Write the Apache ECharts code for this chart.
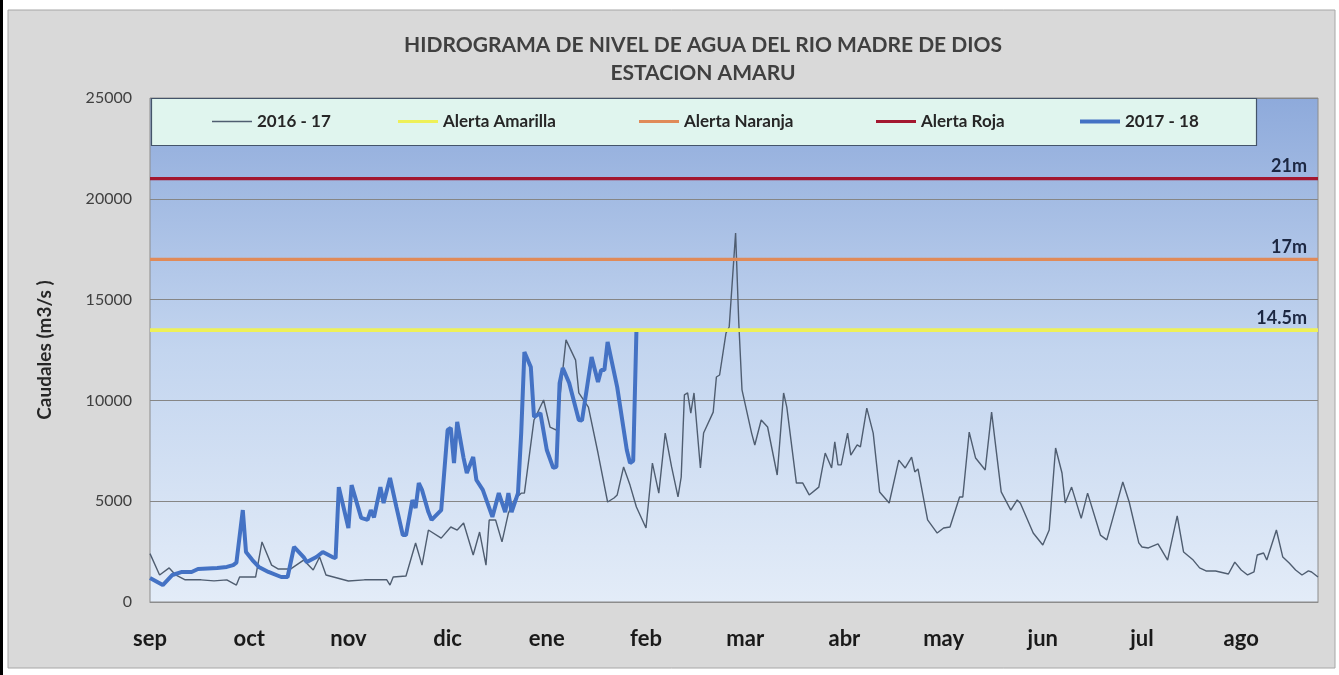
<!DOCTYPE html>
<html lang="es">
<head>
<meta charset="UTF-8">
<title>Hidrograma Amaru</title>
<script src="https://cdn.jsdelivr.net/npm/echarts@6/dist/echarts.min.js"></script>
<style>html,body{margin:0;padding:0;background:#fff}</style>
</head>
<body>
<div id="chart" style="width:1339px;height:675px"></div>
<script>
// etiquetas de meses (una cada 31 dias)
var meses = ['sep','oct','nov','dic','ene','feb','mar','abr','may','jun','jul','ago'];
var diasAnio = 365;

// 2016 - 17 : dia desde el 1 de setiembre / caudal m3/s
var dias1617 = [0,3,6,8,11,16,20,24,27,28,33,35,38,40,44,48,51,53,55,62,67,74,75,76,80,83,85,87,91,94,96,98,101,103,105,106,108,110,112,114,116,117,120,123,125,127,130,133,134,137,140,143,145,146,148,150,152,155,157,159,161,163,165,166,167,168,169,170,172,173,176,177,178,180,181,183,184,185,188,189,191,193,196,198,199,202,204,206,209,211,213,214,215,216,218,219,221,222,224,226,228,231,234,236,238,239,240,243,246,248,250,253,254,256,258,261,263,266,269,271,272,276,279,281,283,285,286,288,291,293,297,299,301,304,306,309,310,312,315,318,321,323,326,328,330,333,337,339,341,343,345,346,348,349,352,354,356,358,360,362,363,365];
var caudal1617 = [2400,1340,1690,1340,1100,1100,1050,1100,840,1240,1240,2980,1830,1640,1640,2080,1590,2230,1340,1040,1100,1100,840,1240,1290,2930,1830,3570,3170,3720,3570,3920,2330,3470,1830,4070,4070,2980,4410,5100,5400,5400,9030,10020,8680,8530,13000,12000,10370,9670,7390,4960,5160,5310,6700,5800,4710,3670,6890,5400,8380,6700,5210,6200,10270,10370,9370,10370,6650,8380,9420,11160,11260,13340,13640,18300,13840,10520,8380,7790,9030,8680,6300,10370,9670,5900,5900,5310,5700,7390,6650,7940,6800,6800,8380,7290,7790,7700,9620,8380,5460,4910,7040,6650,7190,6450,6600,4070,3420,3670,3720,5210,5210,8430,7140,6550,9420,5460,4560,5060,4900,3420,2830,3570,7640,6400,4910,5700,4150,5400,3320,3080,4220,5950,4960,2930,2730,2680,2880,2080,4270,2480,2080,1690,1540,1540,1390,1980,1590,1340,1490,2330,2430,2080,3570,2230,1930,1590,1340,1540,1490,1240];

// 2017 - 18
var dias1718 = [0,4,7,10,13,15,21,24,26,27,29,30,32,34,37,41,43,45,48,49,52,54,57,58,59,62,63,66,68,69,70,72,73,75,77,79,80,82,83,84,85,87,88,90,91,93,94,95,96,98,99,101,102,104,107,109,111,112,113,115,116,117,119,120,122,124,126,127,128,129,131,134,135,138,140,141,142,143,146,149,150,151,152];
var caudal1718 = [1190,840,1340,1490,1490,1640,1690,1740,1830,1950,4560,2480,2080,1740,1490,1240,1240,2730,2230,1980,2230,2480,2230,2180,5700,3670,5800,4170,4070,4560,4200,5700,4910,6150,4710,3320,3320,5060,4660,5900,5560,4460,4070,4400,4560,8530,8630,6890,8930,7140,6400,7190,6050,5560,4220,5400,4460,5400,4460,5400,8380,12400,11660,9180,9370,7540,6650,6700,10860,11610,10860,9030,9000,12150,10910,11510,11510,12900,10660,7540,6890,7000,13390];

// alertas
var alertaNombres = ['Alerta Amarilla','Alerta Naranja','Alerta Roja'];
var alertaCaudal = [13500, 17000, 21000];
var alertaNivel = ['14.5m','17m','21m'];
var alertaColores = ['#eef057','#e08a58','#a3172f'];

var serieNombres = ['2016 - 17','Alerta Amarilla','Alerta Naranja','Alerta Roja','2017 - 18'];

function pares(xs, ys) {
    var out = [];
    for (var i = 0; i < xs.length; i++) out.push([xs[i], ys[i]]);
    return out;
}

var fuente = 'Lato, "Open Sans", sans-serif';
var chart = echarts.init(document.getElementById('chart'));

var series = [{
    name: '2016 - 17',
    type: 'line',
    data: pares(dias1617, caudal1617),
    symbol: 'none',
    lineStyle: {color: '#4f5d70', width: 1.4},
    itemStyle: {color: '#4f5d70'},
    z: 2
}];
alertaNombres.forEach(function (n, i) {
    series.push({
        name: n,
        type: 'line',
        symbol: 'none',
        lineStyle: {color: alertaColores[i], width: 3},
        itemStyle: {color: alertaColores[i]},
        z: 3,
        data: [[0, alertaCaudal[i]], [diasAnio, alertaCaudal[i]]],
        // etiqueta del nivel al final de la linea
        markLine: {
            silent: true, symbol: 'none', animation: false,
            lineStyle: {color: alertaColores[i], width: 3, type: 'solid'},
            data: [{yAxis: alertaCaudal[i]}],
            label: {
                show: true, formatter: alertaNivel[i], position: 'insideEndTop', distance: [11, 3],
                fontFamily: fuente, fontSize: 18, fontWeight: 'bold', color: '#1c2742'
            }
        }
    });
});
series.push({
    name: '2017 - 18',
    type: 'line',
    data: pares(dias1718, caudal1718),
    symbol: 'none',
    lineStyle: {color: '#4472c4', width: 4},
    itemStyle: {color: '#4472c4'},
    z: 4
});

// leyendas separadas para colocar cada item como en el original
var leyX = [207, 393, 634, 871, 1075];
var leyGrosor = [1.5, 3, 3, 3, 4];
var legends = serieNombres.map(function (n, i) {
    return {
        data: [n], left: leyX[i], top: 108, icon: 'rect',
        itemWidth: 40, itemHeight: leyGrosor[i],
        textStyle: {fontFamily: fuente, fontSize: 17, fontWeight: 'bold', color: '#262626'},
        selectedMode: false, z: 6
    };
});

var option = {
    animation: false,
    backgroundColor: '#ffffff',
    title: {
        text: 'HIDROGRAMA DE NIVEL DE AGUA DEL RIO MADRE DE DIOS\nESTACION AMARU',
        left: 698, top: 26, textAlign: 'center',
        textStyle: {fontFamily: fuente, fontSize: 21, fontWeight: 'bold', color: '#404040', lineHeight: 28}
    },
    legend: legends,
    grid: {
        left: 150, right: 21, top: 98, bottom: 73,
        show: true, borderColor: '#8c8c8c', borderWidth: 1,
        backgroundColor: {type: 'linear', x: 0, y: 0, x2: 0, y2: 1,
            colorStops: [{offset: 0, color: '#8eaadb'}, {offset: 0.5, color: '#c3d5ef'}, {offset: 1, color: '#e3ecf8'}]}
    },
    xAxis: {
        type: 'value', min: 0, max: diasAnio, interval: 31,
        axisLine: {show: true, lineStyle: {color: '#8c8c8c'}},
        axisTick: {show: false},
        splitLine: {show: false},
        axisLabel: {
            margin: 26, showMaxLabel: false,
            fontFamily: fuente, fontSize: 22, fontWeight: 'bold', color: '#1a1a1a',
            formatter: function (v) { return meses[Math.round(v / 31)] || ''; }
        }
    },
    yAxis: {
        type: 'value', min: 0, max: 25000, interval: 5000,
        name: 'Caudales (m3/s )', nameLocation: 'middle', nameGap: 96,
        nameTextStyle: {fontFamily: fuente, fontSize: 19, fontWeight: 'bold', color: '#262626'},
        axisLine: {show: false},
        axisTick: {show: false},
        splitLine: {lineStyle: {color: '#868686', width: 1}},
        axisLabel: {margin: 18, fontFamily: fuente, fontSize: 16, color: '#404040',
            formatter: function (v) { return String(v); }}
    },
    graphic: [
        {type: 'rect', z: -10, shape: {x: 8, y: 10, width: 1327, height: 658},
            style: {fill: '#d9d9d9', stroke: '#a6a6a6', lineWidth: 1}},
        {type: 'rect', z: -5, shape: {x: 0, y: 0, width: 3, height: 675}, style: {fill: '#000'}},
        {type: 'rect', z: 5, shape: {x: 151.5, y: 98.5, width: 1105, height: 47},
            style: {fill: '#e0f5ee', stroke: '#44546a', lineWidth: 1.2}}
    ],
    series: series
};
chart.setOption(option);
</script>
</body>
</html>
